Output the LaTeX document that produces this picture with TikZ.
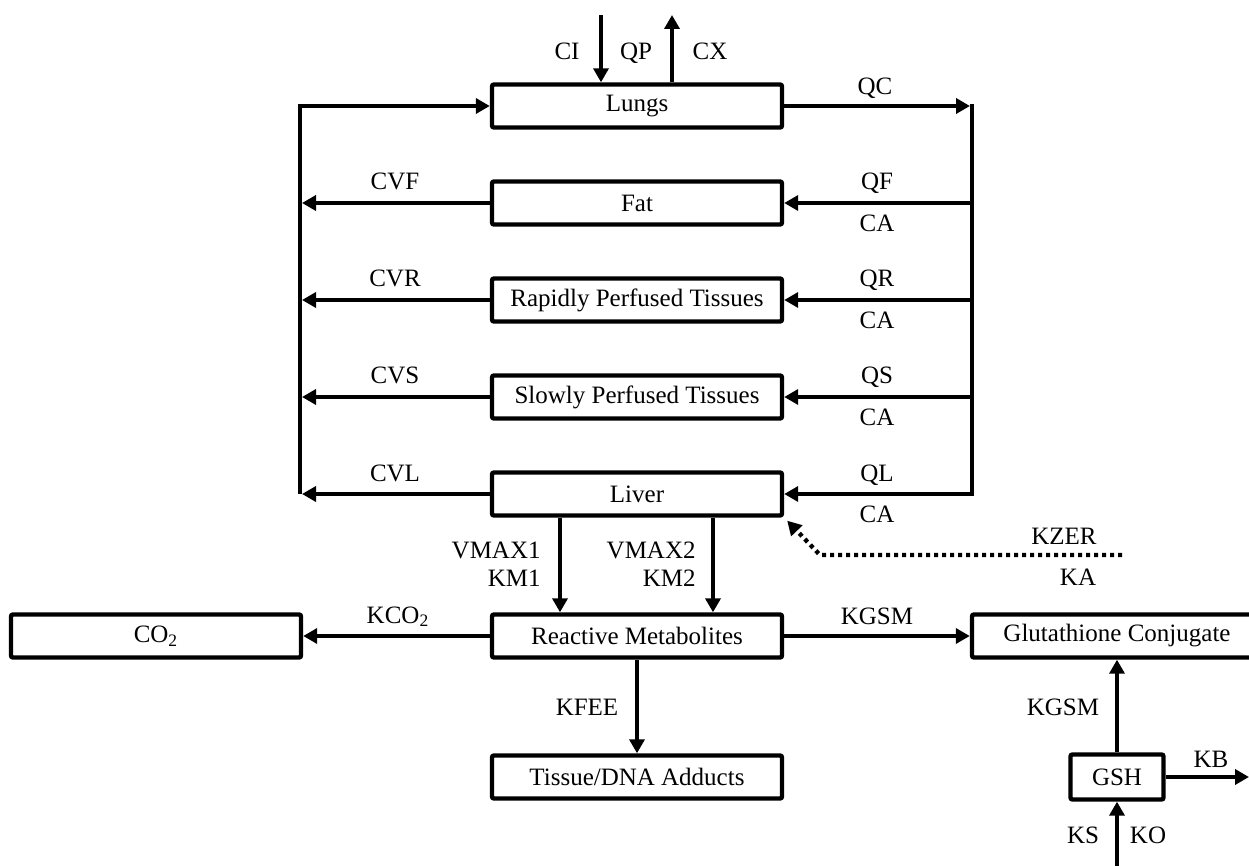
\documentclass[tikz,border=0pt]{standalone}
\usepackage{fontspec}
\setmainfont{Liberation Serif}
\usetikzlibrary{arrows.meta}
\begin{document}
\begin{tikzpicture}[x=0.5pt,y=-0.5pt,
  txt/.style={font=\fontsize{12.5}{14}\selectfont},
  box/.style={txt, draw, line width=2.2pt, rounded corners=1pt, minimum width=145pt,
    minimum height=21.5pt, inner sep=0pt},
  smallbox/.style={box, minimum width=46.5pt, minimum height=22.5pt},
  wire/.style={line width=2.2pt},
  flow/.style={wire, -{Triangle[length=7pt,width=7.5pt]}},
  dotflow/.style={flow, dash pattern=on 2pt off 2pt},
  lbl/.style={txt, inner sep=0pt, anchor=base},
  lble/.style={txt, inner sep=0pt, anchor=base east}]
\useasboundingbox (0,0) rectangle (1249,866);

% compartments
\node[box] (lungs) at (637,106) {Lungs};
\node[box] (fat)   at (637,203) {Fat};
\node[box] (rapid) at (637,300) {Rapidly Perfused Tissues};
\node[box] (slow)  at (637,397) {Slowly Perfused Tissues};
\node[box] (liver) at (637,494) {Liver};
\node[box] (react) at (637,636) {Reactive Metabolites};
\node[box] (co2)   at (156,636) {CO\textsubscript{2}};
\node[box] (adduct) at (637,777) {Tissue/DNA Adducts};
\node[box] (gconj) at (1117,636) {Glutathione Conjugate};
\node[smallbox] (gsh) at (1117,777) {GSH};

% venous (left) and arterial (right) buses
\coordinate (vtop) at (300,106);
\coordinate (vF) at (300,203);
\coordinate (vR) at (300,300);
\coordinate (vS) at (300,397);
\coordinate (vL) at (300,494);
\coordinate (atop) at (972,106);
\coordinate (aF) at (972,203);
\coordinate (aR) at (972,300);
\coordinate (aS) at (972,397);
\coordinate (aL) at (972,494);

\draw[flow] (vL) -- (vtop) -- (lungs.west);
\draw[flow] (lungs.east) -- ([xshift=-1pt]atop);
\draw[wire, line cap=rect] (atop) -- (aL);

\foreach \n/\c in {fat/F, rapid/R, slow/S, liver/L} {
  \draw[flow] (\n.west) -- ([xshift=1pt]v\c);
  \draw[flow] (a\c) -- (\n.east);
}

% inhalation / exhalation
\coordinate (ci) at (601,15);
\coordinate (cx) at (672,15);
\draw[flow] (ci) -- (ci |- lungs.north);
\draw[flow] (cx |- lungs.north) -- (cx);

% metabolism
\draw[flow] ([xshift=-38.5pt]liver.south) -- ([xshift=-38.5pt]react.north);
\draw[flow] ([xshift=38pt]liver.south) -- ([xshift=38pt]react.north);
\draw[flow] (react.west) -- (co2.east);
\draw[flow] (react.east) -- (gconj.west);
\draw[flow] (react.south) -- (adduct.north);

% oral uptake
\coordinate (kz) at (1122,555);
\coordinate (kzb) at (820,555);
\draw[dotflow] (kz) -- (kzb) -- ([xshift=1.5pt,yshift=-1.5pt]liver.south east);

% glutathione
\coordinate (gin) at (1117,866);
\coordinate (gout) at (1249,777);
\draw[flow] (gsh.north) -- (gconj.south);
\draw[flow] (gsh.east) -- (gout);
\draw[flow] (gin) -- (gsh.south);

% labels (placed on their baselines)
\node[lbl] (lCI) at (567,60) {CI};
\node[lbl] (lQP) at (636,60) {QP};
\node[lbl] (lCX) at (710,60) {CX};
\node[lbl] (lQC) at (875,95) {QC};
\foreach \n/\y in {F/203, R/300, S/397, L/494} {
  \node[lbl] at (395,\y-13) {CV\n};
  \node[lbl] at (877,\y-13) {Q\n};
  \node[lbl] at (877,\y+29) {CA};
}
\node[lble] (lV1) at (541,559) {VMAX1};
\node[lble] (lK1) at (541,586) {KM1};
\node[lble] (lV2) at (696,559) {VMAX2};
\node[lble] (lK2) at (696,586) {KM2};
\node[lbl] (lKZ) at (1064,545) {KZER};
\node[lbl] (lKA) at (1078,585) {KA};
\node[lbl] (lKC) at (398,623) {KCO\textsubscript{2}};
\node[lbl] (lKG) at (877,624) {KGSM};
\node[lbl] (lKF) at (587,715) {KFEE};
\node[lbl] (lKG2) at (1063,715) {KGSM};
\node[lbl] (lKB) at (1211,767) {KB};
\node[lbl] (lKS) at (1083,843) {KS};
\node[lbl] (lKO) at (1148,843) {KO};
\end{tikzpicture}
\end{document}
